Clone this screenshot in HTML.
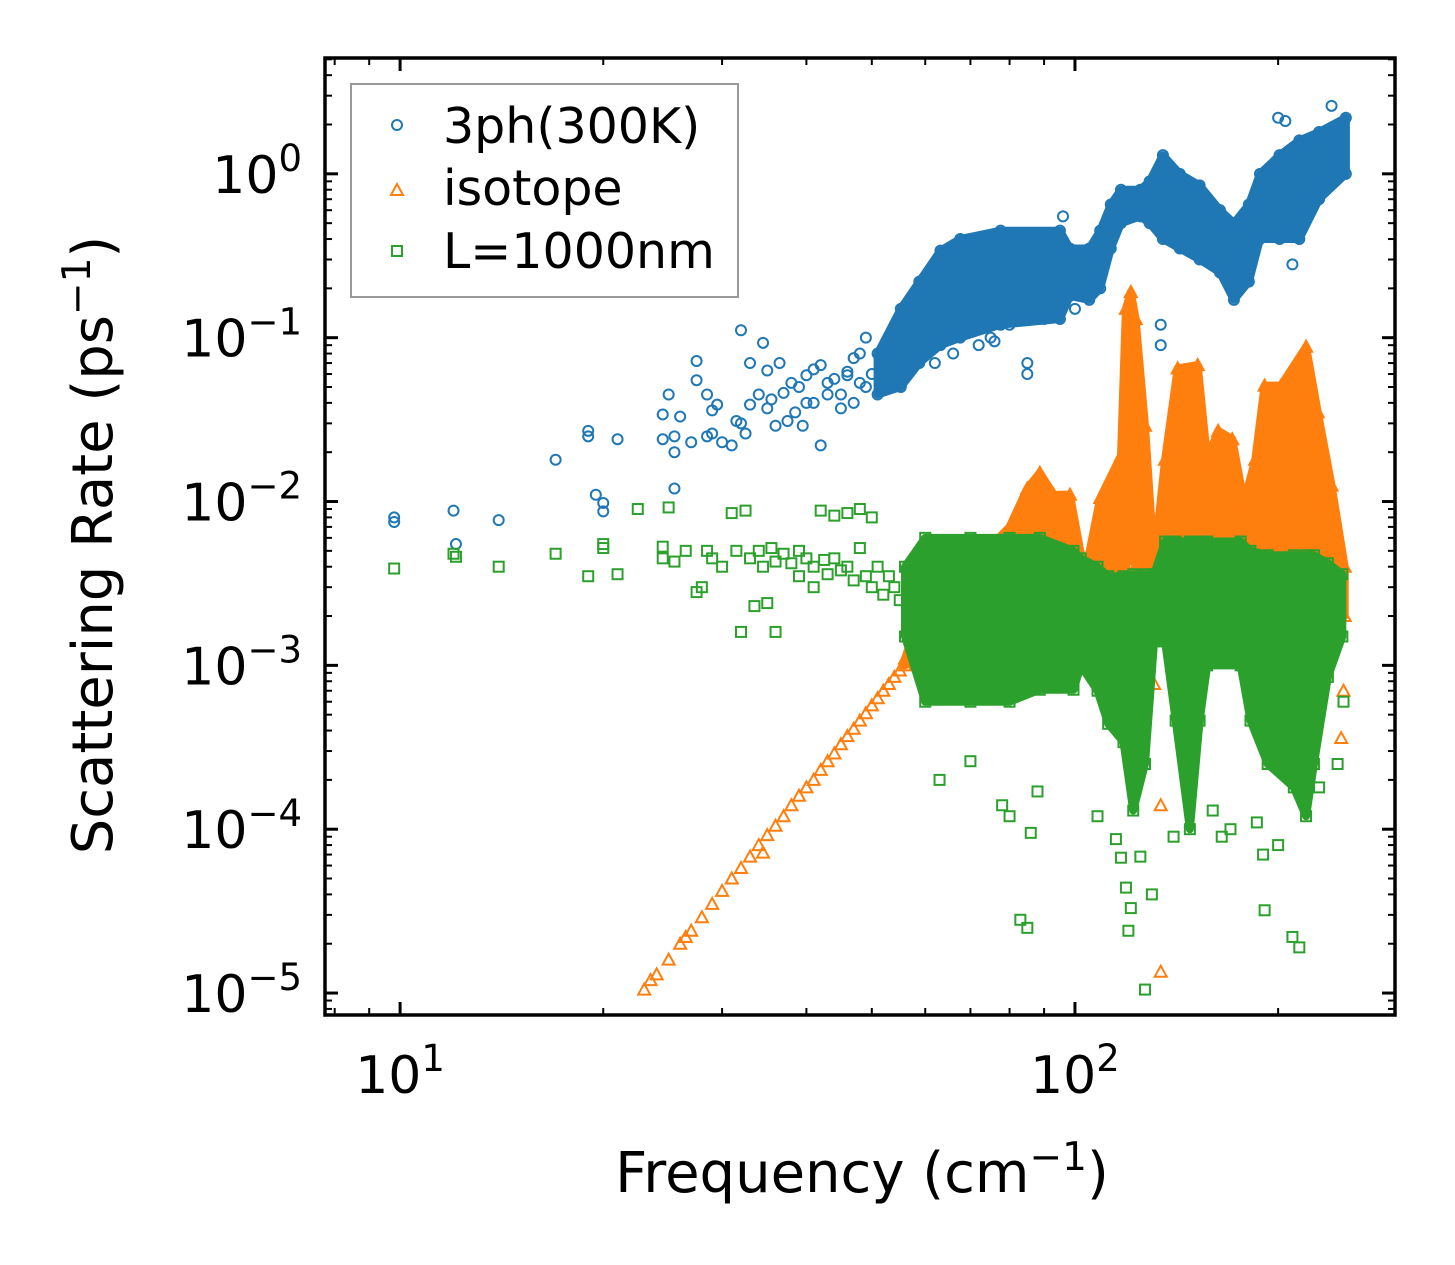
<!DOCTYPE html>
<html><head><meta charset="utf-8"><style>
html,body{margin:0;padding:0;background:#fff;}
svg{display:block;font-family:"DejaVu Sans","Liberation Sans",sans-serif;}
</style></head><body>
<svg id="chart" width="1455" height="1265" viewBox="0 0 1455 1265" xmlns="http://www.w3.org/2000/svg">
<rect width="1455" height="1265" fill="#fff"/>
<g id="bands"></g>
<g id="marks"></g>
<g id="axes"></g>
<g>
<rect x="351" y="84" width="387" height="213" fill="#fff" fill-opacity="0.8" stroke="#999" stroke-width="2"/>
<circle cx="397" cy="125" r="5" fill="none" stroke="#1f77b4" stroke-width="2"/>
<text x="443" y="143" font-size="49">3ph(300K)</text>
<path d="M397,184 L403,195 L391,195 Z" fill="none" stroke="#ff7f0e" stroke-width="2"/>
<text x="443" y="205" font-size="49">isotope</text>
<rect x="392" y="246" width="10" height="10" fill="none" stroke="#2ca02c" stroke-width="2"/>
<text x="443" y="268" font-size="49">L=1000nm</text>
</g>
<text transform="translate(112,545) rotate(-90)" text-anchor="middle" font-size="56">Scattering Rate (ps<tspan dy="-22" font-size="39">−1</tspan><tspan dy="22">)</tspan></text>
<text x="862" y="1192" text-anchor="middle" font-size="56">Frequency (cm<tspan dy="-22" font-size="39">−1</tspan><tspan dy="22">)</tspan></text>
</svg>
<script>
// ---- data ----
const blueBandFreq = [51,55.2,58.8,63.2,67.6,77.6,95,98.3,105,109,113,117,125,129,135,143,153,164,172,181,188,201,215,230,252];
const blueBandLow  = [0.045,0.05,0.07,0.09,0.1,0.12,0.13,0.18,0.17,0.2,0.35,0.5,0.55,0.5,0.4,0.35,0.3,0.25,0.17,0.22,0.4,0.4,0.4,0.7,1.0];
const blueBandHigh = [0.08,0.15,0.22,0.34,0.4,0.45,0.45,0.35,0.35,0.45,0.65,0.8,0.8,0.9,1.3,1.0,0.85,0.6,0.5,0.65,1.0,1.3,1.6,1.8,2.2];
const blueFreq = [9.8,9.8,12,12.1,14,17,19,19,19.5,20,20,21,24.5,24.5,25,25.5,25.5,25.5,26,27,27.5,27.5,28.5,28.5,29,29,29.5,30,31,31.5,32,32,32.5,33,33,34,34.5,35,35,35.5,36,36.5,37,37.5,38,38.5,39,39.5,40,40,41,41,42,42,43,43,44,45,45,46,46,47,47,48,48,49,49,50,72,76,85,85,134,134,96,210,240,200,205,62,66,70,75,80,90,100];
const blueRate = [0.008,0.0075,0.0088,0.0055,0.0077,0.018,0.027,0.025,0.011,0.0098,0.0087,0.024,0.034,0.024,0.045,0.025,0.02,0.012,0.033,0.023,0.072,0.055,0.045,0.025,0.026,0.036,0.039,0.023,0.022,0.031,0.111,0.03,0.026,0.07,0.039,0.045,0.093,0.037,0.063,0.042,0.029,0.07,0.046,0.031,0.053,0.035,0.05,0.029,0.059,0.04,0.064,0.04,0.022,0.068,0.053,0.045,0.056,0.045,0.037,0.059,0.062,0.04,0.075,0.053,0.08,0.05,0.1,0.06,0.09,0.095,0.06,0.07,0.09,0.12,0.55,0.28,2.6,2.2,2.1,0.07,0.08,0.11,0.1,0.12,0.13,0.15];
const orangeBandFreq = [56,60,70,80,85,88.7,93,98.3,102,104.3,109,117,119,121,123,127,131,136,142,152,157,163,171,178,185,191,202,220,229,240,251];
const orangeBandLow  = [1e-3,1.3e-3,1.8e-3,2.2e-3,2.4e-3,2.4e-3,2.4e-3,2.4e-3,2.4e-3,2.4e-3,2.6e-3,3e-3,4e-3,5e-3,4e-3,3e-3,2.5e-3,3e-3,3.5e-3,3.5e-3,3.5e-3,3.5e-3,3.5e-3,3.5e-3,3.5e-3,3.5e-3,3.5e-3,3.5e-3,3e-3,2.5e-3,2e-3];
const orangeBandHigh = [1.1e-3,2.5e-3,4e-3,7e-3,0.012,0.015,0.011,0.011,0.0048,0.0042,0.0105,0.019,0.15,0.19,0.13,0.029,0.0042,0.018,0.065,0.068,0.018,0.027,0.024,0.0099,0.018,0.051,0.051,0.088,0.035,0.0125,0.004];
const orangeFreq = [23,23.5,24,25,26,26.5,27,28,29,30,31,32,33,34,34.5,35,36,37,38,39,40,41,42,43,44,45,46,47,48,49,50,51,52,53,54,55,134,134,131,250,248];
const orangeRate = [1.05e-5,1.2e-5,1.3e-5,1.6e-5,2.0e-5,2.2e-5,2.4e-5,2.9e-5,3.5e-5,4.2e-5,5.0e-5,5.8e-5,6.8e-5,8e-5,7.2e-5,9.2e-5,1.05e-4,1.2e-4,1.4e-4,1.6e-4,1.8e-4,2.0e-4,2.3e-4,2.6e-4,2.9e-4,3.3e-4,3.7e-4,4.1e-4,4.6e-4,5.1e-4,5.7e-4,6.3e-4,7e-4,7.7e-4,8.5e-4,9.3e-4,1.35e-5,1.4e-4,7.7e-4,7e-4,3.6e-4];
const greenBandFreq = [56,60,70,80,88.7,99.5,102,108,112,118,122,127,131,136,141,148,153,157,176,182,193,211,220,226,237,249];
const greenBandLow  = [1.5e-3,6e-4,6e-4,6e-4,7.1e-4,7.1e-4,1e-3,7e-4,4.4e-4,3.4e-4,1.3e-4,2.5e-4,1.4e-3,1.4e-3,4.6e-4,1e-4,4.6e-4,1e-3,1e-3,4.6e-4,2.5e-4,1.8e-4,1.2e-4,2.5e-4,8.5e-4,1.5e-3];
const greenBandHigh = [4e-3,6e-3,6e-3,6e-3,6e-3,5e-3,4.5e-3,4e-3,3.5e-3,3.5e-3,3.6e-3,3.6e-3,3.6e-3,5.7e-3,5.7e-3,5.7e-3,5.7e-3,5.7e-3,5.7e-3,5e-3,4.7e-3,4.7e-3,4.7e-3,4.7e-3,4.2e-3,3.6e-3];
const greenFreq = [9.8,12,12.1,14,17,19,20,20,21,22.5,24.5,24.5,25,25.5,26.5,27.5,28,28.5,29,30,31,31.5,32,32.5,33,33.5,34,34.5,35,35.5,36,36,37,38,39,39,40,41,41,42,42.5,43,44,44,45,46,46,47,48,48,49,50,50,51,52,53,54,55,83,85,120,127,191,215,210,63,70,80,86,108,115,117,119,121,125,130,140,160,165,170,186,190,200,230,245,250,78,88];
const greenRate = [3.9e-3,4.8e-3,4.6e-3,4e-3,4.8e-3,3.5e-3,5.5e-3,5.2e-3,3.6e-3,9e-3,5.3e-3,4.5e-3,9.2e-3,4.3e-3,5e-3,2.8e-3,3e-3,5e-3,4.5e-3,4e-3,8.5e-3,5e-3,1.6e-3,8.8e-3,4.5e-3,2.3e-3,5e-3,4e-3,2.4e-3,5.2e-3,1.6e-3,4.3e-3,4.8e-3,4.2e-3,5e-3,3.5e-3,4.5e-3,4e-3,3e-3,8.8e-3,4.4e-3,3.6e-3,8.2e-3,4.5e-3,3.8e-3,8.5e-3,4e-3,3.3e-3,9e-3,5.2e-3,3.5e-3,3e-3,8e-3,4e-3,2.7e-3,3.5e-3,3e-3,2.5e-3,2.8e-5,2.5e-5,2.4e-5,1.05e-5,3.2e-5,1.9e-5,2.2e-5,2e-4,2.6e-4,1.2e-4,9.5e-5,1.2e-4,8.7e-5,6.7e-5,4.4e-5,3.3e-5,6.8e-5,4e-5,9e-5,1.3e-4,9e-5,1e-4,1.1e-4,7e-5,8e-5,1.8e-4,2.5e-4,6e-4,1.4e-4,1.7e-4];
const xMajorTicks = [10,100];
const xMajorLabels = ["1","2"];
const yMajorTicks = [1,0.1,0.01,0.001,1e-4,1e-5];
const yMajorLabels = ["0","−1","−2","−3","−4","−5"];

// ---- scales ----
const PL=325, PR=1395, PT=58, PB=1015;
const XMIN=Math.log10(7.74), XMAX=Math.log10(298), YMIN=-5.134, YMAX=0.707;
const xs = f => PL + (Math.log10(f)-XMIN)/(XMAX-XMIN)*(PR-PL);
const ys = r => PB - (Math.log10(r)-YMIN)/(YMAX-YMIN)*(PB-PT);
const NS="http://www.w3.org/2000/svg";
const marks=document.getElementById('marks'), axes=document.getElementById('axes');

function band(freq, low, high, color, name){
  let pts=[];
  for(let i=0;i<freq.length;i++) pts.push(xs(freq[i]).toFixed(1)+','+ys(high[i]).toFixed(1));
  for(let i=freq.length-1;i>=0;i--) pts.push(xs(freq[i]).toFixed(1)+','+ys(low[i]).toFixed(1));
  const p=document.createElementNS(NS,'polygon');
  p.setAttribute('points',pts.join(' '));
  p.setAttribute('fill',color);p.setAttribute('stroke',color);p.setAttribute('stroke-width','8');p.setAttribute('stroke-linejoin','round');
  
  
  return p;
}
function marker(kind,f,r,color){
  const x=xs(f), y=ys(r); let el;
  if(kind==='c'){el=document.createElementNS(NS,'circle');el.setAttribute('cx',x);el.setAttribute('cy',y);el.setAttribute('r',5);}
  else if(kind==='t'){el=document.createElementNS(NS,'path');el.setAttribute('d',`M${x},${y-6} L${x+6},${y+5} L${x-6},${y+5} Z`);}
  else {el=document.createElementNS(NS,'rect');el.setAttribute('x',x-5);el.setAttribute('y',y-5);el.setAttribute('width',10);el.setAttribute('height',10);}
  el.setAttribute('fill','none');el.setAttribute('stroke',color);el.setAttribute('stroke-width','2');
  return el;
}
function series(kind,color,bf,bl,bh,sf,sr,name){
  const g=document.createElementNS(NS,'g');
  
  
  g.appendChild(band(bf,bl,bh,color,name+'-dense-cloud'));
  for(let i=0;i<bf.length;i++){
    const a=marker(kind,bf[i],bl[i],color);
    
    
    g.appendChild(a);
    const b=marker(kind,bf[i],bh[i],color);
    
    
    g.appendChild(b);
  }
  for(let i=0;i<sf.length;i++){
    const m=marker(kind,sf[i],sr[i],color);
    
    
    g.appendChild(m);
  }
  marks.appendChild(g);
}
series('c','#1f77b4',blueBandFreq,blueBandLow,blueBandHigh,blueFreq,blueRate,'series-3ph');
series('t','#ff7f0e',orangeBandFreq,orangeBandLow,orangeBandHigh,orangeFreq,orangeRate,'series-isotope');
series('s','#2ca02c',greenBandFreq,greenBandLow,greenBandHigh,greenFreq,greenRate,'series-boundary');

// ---- axes ----
function line(x1,y1,x2,y2,w){const l=document.createElementNS(NS,'line');l.setAttribute('x1',x1);l.setAttribute('y1',y1);l.setAttribute('x2',x2);l.setAttribute('y2',y2);l.setAttribute('stroke','#000');l.setAttribute('stroke-width',w);axes.appendChild(l);return l;}
const frame=document.createElementNS(NS,'rect');
frame.setAttribute('x',PL);frame.setAttribute('y',PT);frame.setAttribute('width',PR-PL);frame.setAttribute('height',PB-PT);
frame.setAttribute('fill','none');frame.setAttribute('stroke','#000');frame.setAttribute('stroke-width','3.5');


axes.appendChild(frame);
for(let d=0; d<=2; d++){
  for(let m=1;m<=9;m++){
    const f=m*Math.pow(10,d);
    if(f<7.74||f>298) continue;
    const x=xs(f), L=(m===1)?13:7, w=(m===1)?3:2;
    line(x,PB,x,PB-L,w); line(x,PT,x,PT+L,w);
  }
}
for(let d=-6; d<=0; d++){
  for(let m=1;m<=9;m++){
    const r=m*Math.pow(10,d);
    const lr=Math.log10(r); if(lr<YMIN||lr>YMAX) continue;
    const y=ys(r), L=(m===1)?13:7, w=(m===1)?3:2;
    line(PL,y,PL+L,y,w); line(PR,y,PR-L,y,w);
  }
}
xMajorTicks.forEach((f,i)=>{
  const t=document.createElementNS(NS,'text');
  t.setAttribute('x',xs(f));t.setAttribute('y',1093);t.setAttribute('text-anchor','middle');t.setAttribute('font-size','52');
  t.textContent='10';
  const s=document.createElementNS(NS,'tspan');s.setAttribute('dy','-22');s.setAttribute('font-size','37');s.textContent=xMajorLabels[i];t.appendChild(s);
  
  
  axes.appendChild(t);
});
yMajorTicks.forEach((r,i)=>{
  const t=document.createElementNS(NS,'text');
  t.setAttribute('x',302);t.setAttribute('y',ys(r)+19);t.setAttribute('text-anchor','end');t.setAttribute('font-size','52');
  t.textContent='10';
  const s=document.createElementNS(NS,'tspan');s.setAttribute('dy','-22');s.setAttribute('font-size','37');s.textContent=yMajorLabels[i];t.appendChild(s);
  
  
  axes.appendChild(t);
});
</script>
</body></html>
